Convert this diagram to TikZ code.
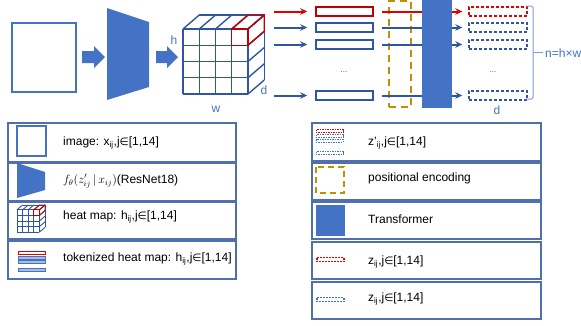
\documentclass[tikz,border=0pt]{standalone}
\usepackage{fontspec}
\setmainfont{Liberation Sans}
\newfontfamily\dvfont{DejaVu Sans}
\usetikzlibrary{arrows.meta}
\definecolor{mblue}{HTML}{4472C4}
\definecolor{dblue}{HTML}{2F55A5}
\definecolor{mred}{HTML}{C00000}
\definecolor{bred}{HTML}{E00000}
\definecolor{gold}{HTML}{BF9000}
\definecolor{lblue}{HTML}{A9BCE0}
\definecolor{bord}{HTML}{4F6FB0}
\definecolor{brc}{HTML}{7F9CD4}
\newcommand\ijsub{\textsubscript{ij}}
\newcommand\inel{{\dvfont\fontsize{10.5}{12}\selectfont ∈}}
\newcommand\drawcube[4]{%
\begin{scope}[shift={(#1,#2)}, scale=#3, line width=#4, draw=dblue]
 \foreach \i in {0,...,4} {\draw (\i,0) -- (\i,4); \draw (0,\i) -- (4,\i); \draw (\i,0) -- ++(1,-0.86); \draw (4,\i) -- ++(1,-0.86);}
 \draw (1,-0.86) -- (5,-0.86) -- (5,3.14);
 \draw[mred] (3,0) rectangle (4,1);
 \draw[mred] (3,0) -- (4,-0.86) -- (5,-0.86) -- (5,0.14) -- (4,1);
 \draw[mred] (4,0) -- (5,-0.86);
\end{scope}}
\tikzset{
 tok/.style={minimum width=57pt, minimum height=9pt, inner sep=0pt, line width=1.5pt, fill=white},
 otok/.style={minimum width=58pt, minimum height=9pt, inner sep=0pt, line width=1.4pt, dash pattern=on 3pt off 2pt},
 legbox/.style={draw=bord, line width=1.3pt, inner sep=0pt},
 legtxt/.style={anchor=west, inner sep=0pt, font=\fontsize{12}{14}\selectfont},
 lbl/.style={text=mblue, inner sep=0pt, font=\fontsize{12}{14}\selectfont},
 dots/.style={inner sep=0pt, font=\fontsize{8}{9}\selectfont, text=dblue},
 arr/.style={-{Stealth[length=7pt,width=6.5pt]}, line width=2pt},
 ln/.style={line width=2pt},
}
\begin{document}
\begin{tikzpicture}[x=1pt,y=-1pt]
\useasboundingbox (0,0) rectangle (581,325);
% image
\node[draw=mblue, line width=1.6pt, minimum width=64pt, minimum height=69pt, inner sep=0pt] (img) at (44,57.5) {};
% block arrows
\fill[mblue] (82,51) -- (94,51) -- (94,46) -- (105,57) -- (94,68) -- (94,63) -- (82,63) -- cycle;
\fill[mblue] (156,51) -- (167,51) -- (167,46) -- (178,57) -- (167,68) -- (167,63) -- (156,63) -- cycle;
% encoder trapezoid
\fill[mblue] (107,8) -- (149,22) -- (149,87) -- (107,100) -- cycle;
% cube
\drawcube{183}{29}{16.25}{1.4pt}
\node[lbl] (hl) at (174,40) {h};
\node[lbl] (dl) at (264,90) {d};
\node[lbl] (wl) at (216,109) {w};
% positional encoding
\node[draw=gold, line width=1.6pt, dash pattern=on 7pt off 5pt, minimum width=22pt, minimum height=106pt, inner sep=0pt] (pe) at (400,54) {};
% transformer
\node[fill=mblue, minimum width=30pt, minimum height=108pt, inner sep=0pt] (tr) at (437,54) {};
% tokens
\node[tok, draw=mred] (r1) at (344.5,11.5) {};
\node[tok, draw=dblue] (r2) at (344.5,27.5) {};
\node[tok, draw=dblue] (r3) at (344.5,44.5) {};
\node[tok, draw=dblue] (r4) at (344.5,95.5) {};
\node[dots] (d1) at (344,72) {...};
\coordinate (s1) at (274,11.5);
\coordinate (s2) at (274,27.5);
\coordinate (s3) at (274,44.5);
\coordinate (s4) at (274,95.5);
\draw[arr, bred, shorten >=8pt] (s1) -- (r1.west);
\draw[arr, dblue, shorten >=8pt] (s2) -- (r2.west);
\draw[arr, dblue, shorten >=8pt] (s3) -- (r3.west);
\draw[arr, dblue, shorten >=8pt] (s4) -- (r4.west);
\draw[ln, bred, shorten <=8pt] (r1.east) -- (tr.west |- r1.east);
\draw[ln, dblue, shorten <=8pt] (r2.east) -- (tr.west |- r2.east);
\draw[ln, dblue, shorten <=8pt] (r3.east) -- (tr.west |- r3.east);
\draw[ln, dblue, shorten <=8pt] (r4.east) -- (tr.west |- r4.east);
% outputs
\node[otok, draw=bred] (o1) at (498,11.5) {};
\node[otok, draw=dblue] (o2) at (498,27.5) {};
\node[otok, draw=dblue] (o3) at (498,44.5) {};
\node[otok, draw=dblue] (o4) at (498,95.5) {};
\node[dots] (d2) at (493,72) {...};
\draw[arr, bred, shorten >=6pt] (tr.east |- o1.west) -- (o1.west);
\draw[arr, dblue, shorten >=6pt] (tr.east |- o2.west) -- (o2.west);
\draw[arr, dblue, shorten >=6pt] (tr.east |- o3.west) -- (o3.west);
\draw[arr, dblue, shorten >=6pt] (tr.east |- o4.west) -- (o4.west);
\node[lbl] (dl2) at (497,110) {d};
% brace
\draw[brc, line width=1pt, rounded corners=1.5pt] (526,6) -- (533,6) -- (533,99) -- (526,99);
\draw[brc, line width=1pt] (533,52.5) -- (543,52.5);
\node[lbl, anchor=west] (nl) at (545,53) {n=h×w};
% ---------- left legend
\node[legbox, minimum width=228pt, minimum height=39pt] (L1) at (122,142.5) {};
\node[legbox, minimum width=228pt, minimum height=38pt] (L2) at (122,182) {};
\node[legbox, minimum width=228pt, minimum height=37pt] (L3) at (122,220.5) {};
\node[legbox, minimum width=228pt, minimum height=38pt] (L4) at (122,260) {};
\draw[mblue, line width=1.4pt] (17,126) rectangle (46,156);
\fill[mblue] (17,163) -- (45,172) -- (45,190) -- (17,198) -- cycle;
\drawcube{17}{209.8}{5.6}{0.9pt}
\draw[bred, line width=0.9pt, fill=white] (18,251) rectangle (45,254);
\draw[mblue, line width=0.9pt, fill=lblue] (18,256) rectangle (45,259);
\draw[mblue, line width=0.9pt, fill=lblue] (18,260) rectangle (45,263);
\node[dots, font=\fontsize{6}{7}\selectfont] (d3) at (31.5,264.5) {...};
\draw[mblue, line width=0.9pt, fill=lblue] (18,268) rectangle (45,271);
\node[legtxt] (t1) at (63,143) {image: x\ijsub,j\inel[1,14]};
\node[legtxt] (t2) at (63,181) {$f_\theta(z'_{ij}\,|\,x_{ij})$(ResNet18)};
\node[legtxt] (t3) at (63,217) {heat map: h\ijsub,j\inel[1,14]};
\node[legtxt] (t4) at (63,259) {tokenized heat map: h\ijsub,j\inel[1,14]};
% ---------- right legend
\node[legbox, minimum width=229pt, minimum height=38pt] (R1) at (426.5,142) {};
\node[legbox, minimum width=229pt, minimum height=37pt] (R2) at (426.5,181.5) {};
\node[legbox, minimum width=229pt, minimum height=37pt] (R3) at (426.5,220.5) {};
\node[legbox, minimum width=229pt, minimum height=37pt] (R4) at (426.5,260.5) {};
\node[legbox, minimum width=229pt, minimum height=37pt] (R5) at (426.5,300.5) {};
\begin{scope}[line width=0.9pt, dash pattern=on 1.5pt off 1pt]
\draw[bred] (316,129.5) rectangle (343,132.5);
\draw[mblue] (316,134.5) rectangle (343,137.5);
\draw[mblue] (316,139) rectangle (343,142);
\draw[mblue] (316,151.5) rectangle (343,154.5);
\end{scope}
\draw[gold, line width=1.6pt, dash pattern=on 6pt off 4pt] (316,167) rectangle (344,193);
\fill[mblue] (316,205) rectangle (345,236);
\draw[bred, line width=1.1pt, dash pattern=on 2pt off 1pt] (317,257.5) rectangle (344,261.5);
\draw[mblue, line width=1.1pt, dash pattern=on 2pt off 1pt] (317,297.5) rectangle (344,301.5);
\node[legtxt] (u1) at (368,143) {z'\ijsub,j\inel[1,14]};
\node[legtxt] (u2) at (368,178) {positional encoding};
\node[legtxt] (u3) at (368,219) {Transformer};
\node[legtxt] (u4) at (368,262) {z\ijsub,j\inel[1,14]};
\node[legtxt] (u5) at (368,299) {z\ijsub,j\inel[1,14]};
\end{tikzpicture}
\end{document}
